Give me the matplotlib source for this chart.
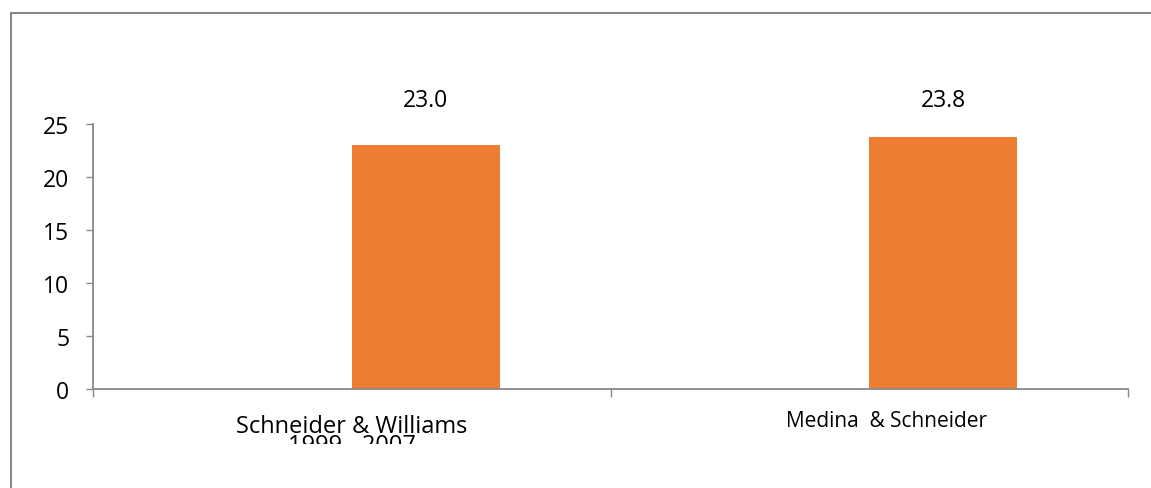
import numpy as np
import matplotlib.pyplot as plt
from matplotlib.lines import Line2D
from matplotlib.patches import Rectangle

plt.rcParams['font.family'] = ['Open Sans', 'DejaVu Sans']

# data
studies = ['Schneider & Williams', 'Medina  & Schneider']
years = ['1999 - 2007', '']
values = [23.0, 23.8]
yticks = [0, 5, 10, 15, 20, 25]

orange = '#ED7D31'
gray = '#888888'

fig = plt.figure(figsize=(11.51, 4.89), dpi=100)
ax = fig.add_axes([93/1151, 1 - 390/489, (1128 - 93)/1151, (390 - 125)/489])

x = np.arange(len(values))
ax.bar(x, values, width=0.286, align='edge', color=orange)

ax.set_xlim(-0.5, len(values) - 0.5)
ax.set_ylim(0, 25)
ax.set_yticks(yticks)
ax.set_xticks(np.arange(len(values) + 1) - 0.5)
ax.set_xticklabels([])

for s in ['top', 'right']:
    ax.spines[s].set_visible(False)
for s in ['left', 'bottom']:
    ax.spines[s].set_color(gray)
    ax.spines[s].set_linewidth(1.3)
ax.tick_params(axis='y', length=5, color=gray, width=1, pad=12, labelsize=16.5)
ax.tick_params(axis='x', length=6, color=gray, width=1)

# value labels
for xi, v in zip(x, values):
    ax.text(xi + 0.143, 27.3, f'{v:.1f}', ha='center', va='center',
            fontsize=16.5, clip_on=False)

# category labels (first one is squeezed and clipped like the original)
box = Rectangle((0, 44/489), 1, 1, transform=fig.transFigure, facecolor='none',
                edgecolor='none')
fig.add_artist(box)
fig.text(352/1151, 1 - 433/489, studies[0], ha='center', va='baseline',
         fontsize=17)
t2 = fig.text(352/1151, 1 - 452/489, years[0], ha='center', va='baseline',
              fontsize=17)
t2.set_clip_path(box)
fig.text(886/1151, 1 - 427/489, studies[1], ha='center', va='baseline',
         fontsize=15)

# outer frame
fig.add_artist(Line2D([11/1151, 11/1151], [0, 1 - 14/489], color=gray,
                      lw=1.5, transform=fig.transFigure))
fig.add_artist(Line2D([11/1151, 1], [1 - 14/489, 1 - 14/489], color=gray,
                      lw=1.5, transform=fig.transFigure))

fig.savefig('out.png', dpi=100)
